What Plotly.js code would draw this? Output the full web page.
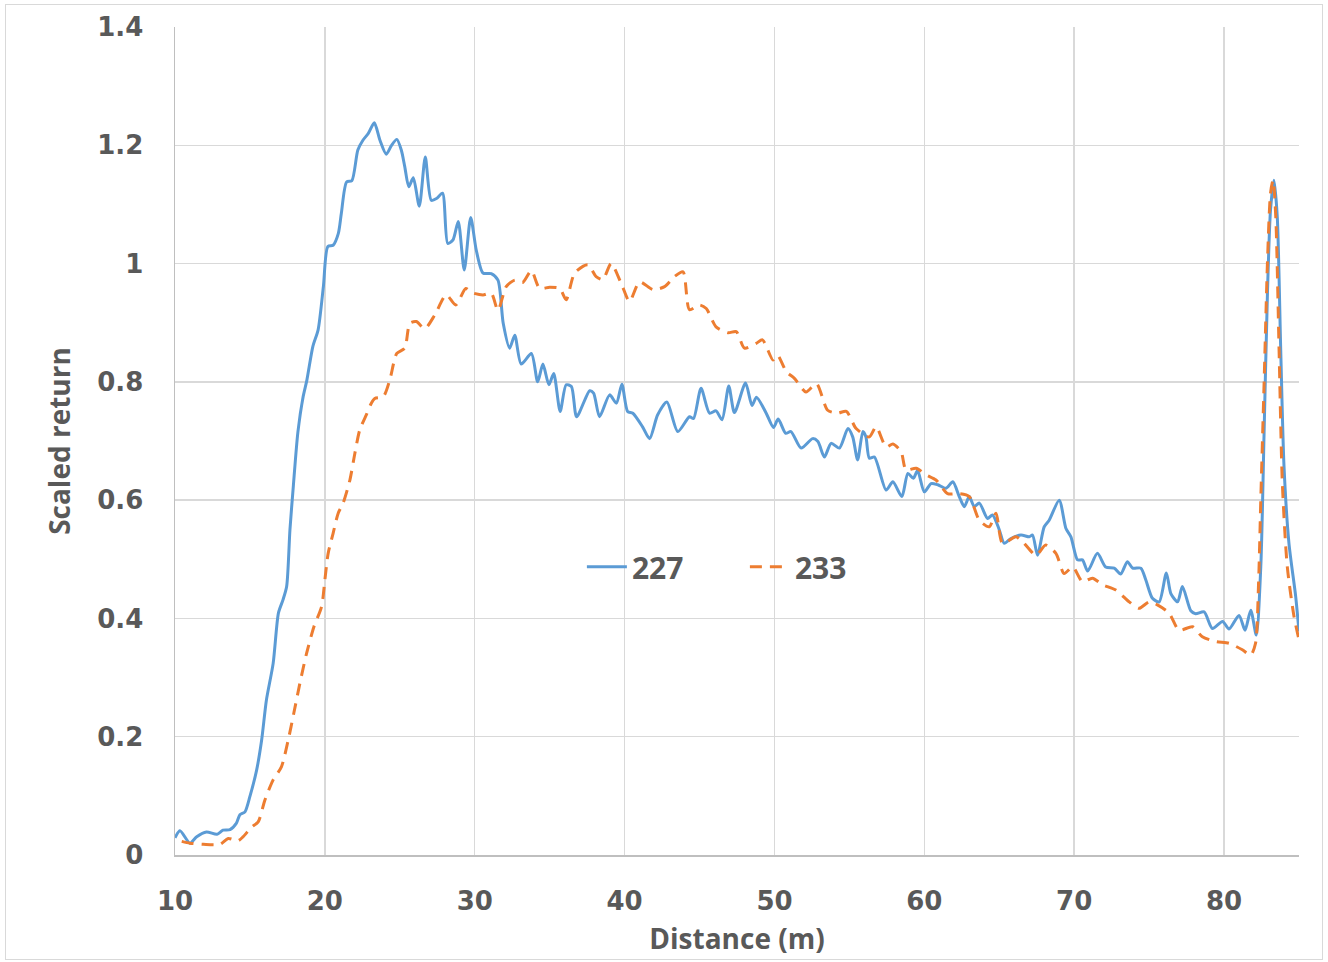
<!DOCTYPE html>
<html>
<head>
<meta charset="utf-8">
<script src="https://cdn.plot.ly/plotly-3.0.1.min.js"></script>
<style>
html,body{margin:0;padding:0;background:#fff;}
#wrap{position:relative;width:1328px;height:962px;}
#chart{width:1328px;height:962px;}
#frame{position:absolute;left:5px;top:4px;width:1316px;height:954px;border:1px solid #d9d9d9;pointer-events:none;}
</style>
</head>
<body>
<div id="wrap"><div id="chart"></div><div id="frame"></div></div>
<script>
// Series 227 (solid blue)
const x227 = [10, 10.33, 11, 11.45, 12.1, 12.8, 13.2, 13.67, 14.1, 14.33,
  14.67, 15, 15.45, 15.78, 16.1, 16.55, 16.9, 17.2, 17.45, 17.67,
  17.9, 18.2, 18.55, 18.8, 19.2, 19.55, 19.9, 20.2, 20.55, 20.9,
  21.1, 21.45, 21.8, 22.2, 22.55, 22.9, 23.3, 23.67, 24.1, 24.45,
  24.8, 25.1, 25.33, 25.6, 25.9, 26.3, 26.7, 27.1, 27.45, 27.85,
  28.2, 28.55, 28.9, 29.3, 29.73, 30.1, 30.55, 31.1, 31.55, 31.9,
  32.33, 32.67, 33.1, 33.78, 34.2, 34.55, 34.95, 35.27, 35.7, 36.1,
  36.45, 36.8, 37.67, 37.93, 38.33, 39, 39.45, 39.82, 40.2, 40.55,
  41.2, 41.67, 42.2, 42.82, 43.55, 44.33, 44.6, 45.1, 45.67, 46.1,
  46.5, 46.95, 47.33, 48.07, 48.5, 48.8, 49.45, 49.93, 50.25, 50.75,
  51.1, 51.78, 52.55, 52.9, 53.33, 53.78, 54.33, 54.9, 55.22, 55.55,
  55.9, 56.1, 56.33, 56.67, 57.45, 57.9, 58.5, 58.9, 59.27, 59.55,
  60, 60.45, 60.9, 61.45, 61.9, 62.33, 62.67, 63, 63.33, 63.67,
  64.22, 64.55, 65, 65.33, 65.78, 66.45, 67, 67.22, 67.55, 68,
  68.33, 69, 69.45, 69.78, 70.22, 70.55, 70.9, 71.55, 72.1, 72.67,
  73.1, 73.55, 73.9, 74.45, 74.78, 75.22, 75.67, 76.15, 76.45, 76.9,
  77.22, 77.78, 78.1, 78.67, 79.22, 79.9, 80.33, 81, 81.4, 81.78,
  82.15, 82.45, 82.67, 82.9, 83.1, 83.33, 83.55, 83.78, 84, 84.33, 84.78, 85];
const y227 = [0.029, 0.041, 0.02, 0.031, 0.039, 0.035, 0.042, 0.043, 0.054, 0.068,
  0.073, 0.099, 0.144, 0.194, 0.262, 0.324, 0.409, 0.431, 0.454, 0.55,
  0.625, 0.715, 0.775, 0.803, 0.86, 0.888, 0.961, 1.029, 1.031, 1.051,
  1.085, 1.138, 1.14, 1.192, 1.209, 1.22, 1.238, 1.209, 1.185, 1.2,
  1.21, 1.192, 1.164, 1.13, 1.145, 1.097, 1.18, 1.107, 1.11, 1.119,
  1.034, 1.04, 1.071, 0.989, 1.078, 1.023, 0.984, 0.983, 0.972, 0.899,
  0.857, 0.879, 0.83, 0.848, 0.8, 0.83, 0.795, 0.814, 0.75, 0.795,
  0.792, 0.741, 0.785, 0.781, 0.741, 0.778, 0.764, 0.796, 0.75, 0.747,
  0.724, 0.704, 0.744, 0.766, 0.716, 0.741, 0.738, 0.789, 0.747, 0.751,
  0.736, 0.793, 0.748, 0.798, 0.76, 0.774, 0.747, 0.723, 0.737, 0.713,
  0.716, 0.688, 0.704, 0.699, 0.673, 0.696, 0.688, 0.721, 0.707, 0.668,
  0.716, 0.707, 0.671, 0.673, 0.617, 0.631, 0.606, 0.645, 0.637, 0.65,
  0.614, 0.628, 0.626, 0.62, 0.631, 0.606, 0.589, 0.606, 0.589, 0.595,
  0.569, 0.575, 0.55, 0.527, 0.535, 0.541, 0.538, 0.541, 0.507, 0.555,
  0.566, 0.6, 0.552, 0.538, 0.499, 0.499, 0.48, 0.51, 0.487, 0.485,
  0.475, 0.496, 0.485, 0.485, 0.465, 0.434, 0.428, 0.477, 0.442, 0.428,
  0.454, 0.413, 0.408, 0.411, 0.383, 0.395, 0.382, 0.405, 0.38, 0.414,
  0.372, 0.487, 0.713, 0.955, 1.091, 1.141, 1.079, 0.854, 0.657, 0.527, 0.437, 0.378];

// Series 233 (dashed orange)
const x233 = [10.45, 11, 11.9, 13, 13.55, 14.2, 14.55, 15.1, 15.55, 16,
  16.55, 17.1, 17.55, 17.93, 18.33, 18.78, 19.27, 19.78, 20, 20.22,
  20.55, 20.89, 21.22, 21.67, 22, 22.33, 22.78, 23.1, 23.33, 23.9,
  24.33, 24.8, 25.33, 25.67, 26.1, 26.67, 27.33, 28.1, 28.73, 29.4,
  29.78, 30.55, 31.1, 31.55, 32.1, 32.67, 33.2, 33.78, 34.33, 35,
  35.67, 36.1, 36.67, 37.55, 38.1, 38.55, 39.1, 39.78, 40.33, 41,
  41.9, 42.67, 43.33, 43.9, 44.33, 45, 45.45, 46.1, 46.9, 47.45,
  48, 48.78, 49.2, 49.9, 50.2, 50.8, 51.33, 52.1, 52.8, 53.55,
  54.2, 54.8, 55.45, 56.33, 56.78, 57.45, 57.9, 58.45, 58.78, 59.45,
  60.1, 60.78, 61.55, 62.33, 63, 63.67, 64.33, 64.78, 65.22, 66.1,
  66.55, 67.45, 68.1, 68.78, 69.33, 69.9, 70.55, 71.22, 71.89, 72.78,
  73.67, 74.33, 75, 75.55, 76.33, 77, 77.89, 78.55, 79.45, 80.33,
  81.22, 81.78, 82.1, 82.3, 82.45, 82.67, 82.9, 83.1, 83.27, 83.45,
  83.67, 83.89, 84.22, 84.67, 85];
const y233 = [0.023, 0.02, 0.018, 0.018, 0.028, 0.024, 0.031, 0.047, 0.056, 0.093,
  0.127, 0.149, 0.194, 0.24, 0.29, 0.341, 0.386, 0.42, 0.465, 0.51,
  0.544, 0.578, 0.595, 0.634, 0.679, 0.719, 0.745, 0.764, 0.772, 0.775,
  0.803, 0.848, 0.857, 0.899, 0.902, 0.89, 0.913, 0.947, 0.93, 0.958,
  0.951, 0.947, 0.95, 0.921, 0.961, 0.972, 0.968, 0.988, 0.958, 0.96,
  0.958, 0.939, 0.984, 0.998, 0.978, 0.973, 1.0, 0.966, 0.936, 0.969,
  0.956, 0.961, 0.978, 0.986, 0.922, 0.93, 0.924, 0.893, 0.883, 0.885,
  0.857, 0.865, 0.871, 0.837, 0.845, 0.817, 0.806, 0.783, 0.797, 0.752,
  0.747, 0.75, 0.721, 0.707, 0.724, 0.69, 0.695, 0.682, 0.651, 0.654,
  0.643, 0.634, 0.611, 0.611, 0.606, 0.566, 0.555, 0.578, 0.527, 0.538,
  0.53, 0.507, 0.524, 0.51, 0.476, 0.487, 0.462, 0.468, 0.457, 0.448,
  0.428, 0.417, 0.428, 0.423, 0.409, 0.38, 0.386, 0.369, 0.361, 0.358,
  0.347, 0.338, 0.358, 0.459, 0.6, 0.797, 1.006, 1.119, 1.141, 1.079,
  0.854, 0.628, 0.487, 0.403, 0.364];

const seriesNames = ['227', '233'];
const xTicks = [10, 20, 30, 40, 50, 60, 70, 80];
const yTicks = [0, 0.2, 0.4, 0.6, 0.8, 1, 1.2, 1.4];
const yTickText = ['0', '0.2', '0.4', '0.6', '0.8', '1', '1.2', '1.4'];

const tickFont = {family: 'DejaVu Sans', size: 26, color: '#595959', weight: 700};
const titleFont = {family: 'Open Sans', size: 28, color: '#595959', weight: 700};

const traces = [
  {x: x227, y: y227, name: seriesNames[0], type: 'scatter', mode: 'lines',
   line: {color: '#5b9bd5', width: 3, shape: 'spline', smoothing: 0.7}},
  {x: x233, y: y233, name: seriesNames[1], type: 'scatter', mode: 'lines',
   line: {color: '#ed7d31', width: 3, dash: '12px,8px', shape: 'spline', smoothing: 0.7}}
];

const layout = {
  width: 1328, height: 962,
  margin: {l: 175, r: 29, t: 27, b: 107},
  paper_bgcolor: '#ffffff', plot_bgcolor: '#ffffff',
  showlegend: true,
  legend: {orientation: 'h', x: 0.362, y: 0.348, xanchor: 'left', yanchor: 'middle',
    font: {family: 'Open Sans', size: 30, color: '#595959', weight: 700},
    itemwidth: 40, entrywidth: 108, entrywidthmode: 'pixels',
    bgcolor: 'rgba(0,0,0,0)', tracegroupgap: 0},
  xaxis: {range: [10, 85], tickvals: xTicks, ticktext: xTicks.map(String),
    showgrid: true, gridcolor: '#d9d9d9', gridwidth: 1.5,
    showline: true, linecolor: '#bfbfbf', linewidth: 1.5,
    zeroline: false, ticks: '', tickfont: tickFont, ticklabelstandoff: 22,
    title: {text: 'Distance (m)', font: titleFont, standoff: 14}},
  yaxis: {range: [0, 1.4], tickvals: yTicks, ticktext: yTickText,
    showgrid: true, gridcolor: '#d9d9d9', gridwidth: 1.5,
    showline: true, linecolor: '#bfbfbf', linewidth: 1.5,
    zeroline: false, ticks: '', tickfont: tickFont, ticklabelstandoff: 25,
    title: {text: 'Scaled return', font: titleFont, standoff: 18}}
};

Plotly.newPlot('chart', traces, layout, {displayModeBar: false, staticPlot: true});
</script>
</body>
</html>
